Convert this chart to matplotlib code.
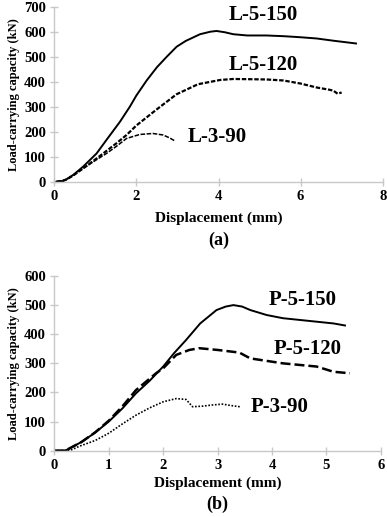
#! /usr/bin/env python

import matplotlib
matplotlib.use('Agg')
import matplotlib.pyplot as plt

plt.rcParams['font.family'] = ['Liberation Serif', 'DejaVu Serif']
plt.rcParams['font.weight'] = 'bold'

# (a) L-series: displacement (mm), load (kN)
l150_x = [0.05, 0.2, 0.3, 0.46, 0.7, 1.03, 1.27, 1.6, 1.84, 2.0, 2.25, 2.5, 2.74, 2.98, 3.2, 3.55, 3.8, 3.95, 4.15, 4.36, 4.7, 5.17, 5.6, 5.99, 6.39, 6.8, 7.1, 7.35]
l150_y = [0, 3, 10, 27, 60, 113, 167, 240, 300, 345, 405, 458, 500, 540, 563, 590, 600, 603, 598, 590, 585, 585, 582, 578, 573, 564, 558, 553]

l120_x = [0.05, 0.2, 0.3, 0.46, 0.7, 1.03, 1.27, 1.5, 1.76, 2.0, 2.5, 2.98, 3.5, 4.04, 4.36, 4.8, 5.17, 5.58, 5.99, 6.39, 6.7, 6.8, 6.9, 7.0]
l120_y = [0, 3, 9, 25, 53, 93, 123, 152, 187, 225, 290, 350, 390, 407, 411, 410, 409, 405, 393, 377, 368, 364, 352, 357]

l90_x = [0.05, 0.2, 0.3, 0.5, 0.7, 1.0, 1.27, 1.5, 1.76, 2.08, 2.4, 2.65, 2.8, 2.93]
l90_y = [0, 3, 10, 30, 53, 85, 113, 140, 173, 189, 193, 187, 176, 164]

# (b) P-series
p150_x = [0.0, 0.2, 0.3, 0.5, 0.75, 1.0, 1.25, 1.5, 1.75, 2.0, 2.2, 2.42, 2.68, 2.98, 3.15, 3.29, 3.45, 3.6, 3.9, 4.2, 4.51, 4.82, 5.13, 5.34]
p150_y = [0, 0, 10, 30, 62, 100, 145, 197, 240, 289, 335, 380, 437, 483, 495, 500, 495, 483, 466, 455, 449, 443, 437, 430]

p120_x = [0.0, 0.2, 0.3, 0.5, 0.75, 1.0, 1.25, 1.5, 1.87, 2.0, 2.24, 2.48, 2.66, 3.0, 3.4, 3.6, 4.2, 4.82, 5.13, 5.43]
p120_y = [0, 0, 10, 30, 63, 103, 152, 208, 266, 283, 329, 346, 352, 346, 337, 317, 300, 289, 271, 266]

p90_x = [0.0, 0.3, 0.47, 0.75, 1.0, 1.25, 1.5, 1.75, 2.0, 2.24, 2.42, 2.54, 2.72, 2.9, 3.09, 3.25, 3.41]
p90_y = [0, 2, 16, 35, 60, 92, 122, 147, 168, 179, 176, 151, 153, 157, 160, 155, 151]

grey = '#c8c8c8'


# This function sets up one panel the same way as the other
def style(ax, xmax, ymax, xstep, ystep, xpad):
	for side in ['top', 'right']:
		ax.spines[side].set_visible(False)
	for side in ['left', 'bottom']:
		ax.spines[side].set_color(grey)
		ax.spines[side].set_linewidth(1.0)
	ax.set_xlim(0, xmax)
	ax.set_ylim(0, ymax)
	ax.set_xticks(range(0, xmax + 1, xstep))
	ax.set_yticks(range(0, ymax + 1, ystep))
	ax.tick_params(colors=grey, labelcolor='black', length=6, width=1,
		direction='inout', labelsize=10.5, pad=3)
	ax.set_xlabel('Displacement (mm)', fontsize=11, fontweight='bold', labelpad=xpad)
	ax.set_ylabel('Load-carrying capacity (kN)', fontsize=9, fontweight='bold', labelpad=3)


fig = plt.figure(figsize=(3.87, 5.17), dpi=100)

ax1 = fig.add_axes([0.1403, 0.6485, 0.8486, 0.3385])
ax1.plot(l150_x, l150_y, color='black', lw=1.4, ls='-')
ax1.plot(l120_x, l120_y, color='black', lw=1.6, ls=(0, (2, 0.8)))
ax1.plot(l90_x, l90_y, color='black', lw=1.1, ls=(0, (3, 1)))
ax1.text(5.08, 667, 'L-5-150', ha='center', va='center', fontsize=15, fontweight='bold')
ax1.text(5.08, 467, 'L-5-120', ha='center', va='center', fontsize=15, fontweight='bold')
ax1.text(3.96, 179, 'L-3-90', ha='center', va='center', fontsize=15, fontweight='bold')
style(ax1, 8, 700, 2, 100, 6)

ax2 = fig.add_axes([0.1403, 0.1282, 0.844, 0.338])
ax2.plot(p150_x, p150_y, color='black', lw=1.4, ls='-')
ax2.plot(p120_x, p120_y, color='black', lw=1.8, ls=(0, (4, 1.6)))
ax2.plot(p90_x, p90_y, color='black', lw=1.2, ls=(0, (1, 1)))
ax2.text(4.57, 517, 'P-5-150', ha='center', va='center', fontsize=15, fontweight='bold')
ax2.text(4.66, 350, 'P-5-120', ha='center', va='center', fontsize=15, fontweight='bold')
ax2.text(4.14, 151, 'P-3-90', ha='center', va='center', fontsize=15, fontweight='bold')
style(ax2, 6, 600, 1, 100, 3)

fig.text(0.564, 0.536, '(a)', ha='center', va='center', fontsize=13, fontweight='bold')
fig.text(0.562, 0.024, '(b)', ha='center', va='center', fontsize=13, fontweight='bold')

plt.savefig('out.png', dpi=100)
